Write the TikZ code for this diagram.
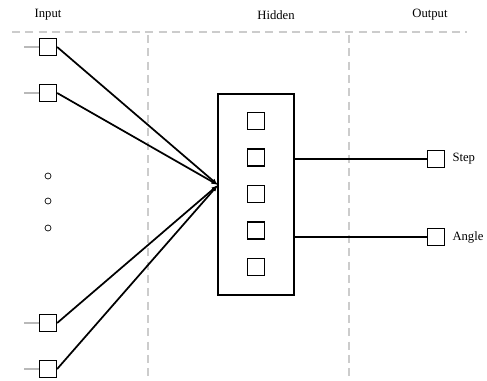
\documentclass[tikz,border=0pt]{standalone}
\usepackage{fontspec}
\setmainfont{Liberation Serif}
\usetikzlibrary{positioning}
\usetikzlibrary{arrows.meta}

\begin{document}
\begin{tikzpicture}[
    x=0.75pt, y=-0.75pt,
    node distance=2pt,
    unit/.style={
        draw,
        line width=1.2pt,
        minimum size=12.5pt,
        inner sep=0pt,
    },
    layer/.style={
        draw,
        line width=1.2pt,
        minimum width=57pt,
        minimum height=150.75pt,
    },
    ellip/.style={
        circle,
        draw,
        line width=0.5pt,
        minimum size=4.5pt,
        inner sep=0pt,
    },
    sep/.style={
        gray!40,
        line width=0.8pt,
        dash pattern=on 6pt off 4pt,
    },
    stub/.style={gray!55, line width=0.8pt},
    wire/.style={line width=1.3pt},
    title/.style={font=\fontsize{9.5}{11}\selectfont},
    tag/.style={font=\fontsize{9.5}{11}\selectfont, anchor=west}
]
\useasboundingbox (0,0) rectangle (487,381);

\node[title] (tin) at (48,15) {Input};
\node[title] (thid) at (276,15) {Hidden};
\node[title] (tout) at (430,15) {Output};

\draw[sep] (12,32) -- (467,32);
\draw[sep] (148,35) -- (148,381);
\draw[sep] (349,35) -- (349,381);

% input layer
\node[unit] (in1) at (48,47) {};
\node[unit] (in2) at (48,93) {};
\node[unit] (in3) at (48,323) {};
\node[unit] (in4) at (48,369) {};
\foreach \n in {1,...,4}
    \draw[stub] (in\n.west) -- ++(-15,0);

\node[ellip] (d1) at (48,176) {};
\node[ellip] (d2) at (48,201) {};
\node[ellip] (d3) at (48,228) {};

% hidden layer
\node[layer] (hidden) at (256,194.5) {};
\foreach \i in {0,...,4}
    \node[unit] (h\i) at (256,121+36.5*\i) {};

\coordinate (hub) at (218,185);
\foreach \n in {1,...,4}
    \draw[wire, -{Latex[length=5pt,width=3.5pt]}] (in\n.east) -- (hub);

% output layer
\node[unit] (out1) at (436,159) {};
\node[unit] (out2) at (436,237) {};
\node[tag, right=of out1] (step) {Step};
\node[tag, right=of out2] (angle) {Angle};

\draw[wire] (hidden.east |- out1) -- (out1);
\draw[wire] (hidden.east |- out2) -- (out2);
\end{tikzpicture}
\end{document}
